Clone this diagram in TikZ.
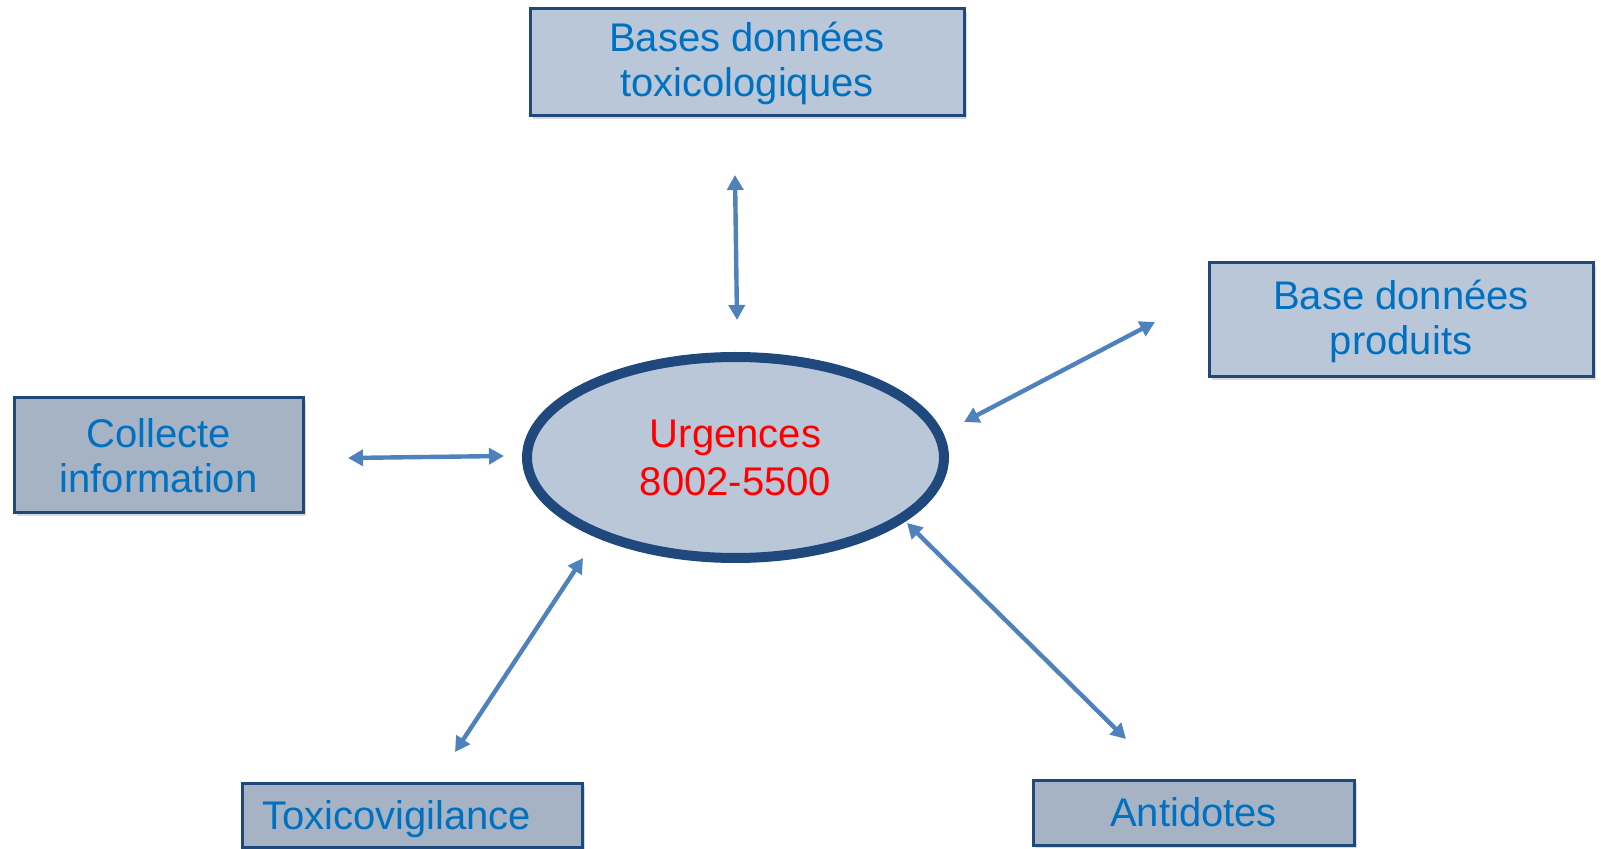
\documentclass[tikz,border=0pt]{standalone}
\usepackage{fontspec}
\setmainfont{Liberation Sans}
\usetikzlibrary{arrows.meta, shapes.geometric, shadows}

\definecolor{boxline}{HTML}{1F497D}
\definecolor{boxlight}{HTML}{B9C7D9}
\definecolor{boxdark}{HTML}{A6B3C5}
\definecolor{txtblue}{HTML}{0070C0}
\definecolor{arrowblue}{HTML}{4F81BD}

\begin{document}
\begin{tikzpicture}[x=0.5pt, y=-0.5pt,
    box/.style={draw=boxline, line width=1.5pt, fill=boxlight, text=txtblue,
        align=center, inner sep=0pt, font=\fontsize{20}{22.5}\selectfont,
        drop shadow={opacity=0.3, shadow xshift=1.5pt, shadow yshift=-1.5pt}},
    darkbox/.style={box, fill=boxdark},
    link/.style={{Triangle[length=7.5pt, width=8pt]}-{Triangle[length=7.5pt, width=8pt]},
        draw=arrowblue, line width=2.2pt}]
\useasboundingbox (0,0) rectangle (1601,849);
\clip (0,0) rectangle (1601,849);

% centre
\node[ellipse, draw=boxline, line width=5pt, fill=boxlight, text=red,
    minimum width=208.5pt, minimum height=100.5pt, inner sep=0pt, align=center,
    font=\fontsize{20}{24}\selectfont] (urg) at (735.5,457.5) {Urgences\\8002-5500};

% boxes
\node[box, minimum width=217pt, minimum height=53.5pt] (bdtox) at (747,62.5)
    {\strut Bases données\\toxicologiques};
\node[box, minimum width=192pt, minimum height=57pt] (bdprod) at (1401,320)
    {\strut Base données\\produits};
\node[darkbox, minimum width=144.5pt, minimum height=57.5pt] (collecte) at (158.5,455.5)
    {Collecte\\information};
\node[darkbox, text width=150pt, align=left, inner xsep=10pt, minimum height=32pt,
    text depth=0pt] (vigil) at (412,815) {Toxicovigilance};
\node[darkbox, minimum width=160.5pt, minimum height=32.5pt, text depth=0pt]
    (antid) at (1193.5,812.5) {Antidotes};

% arrow ends
\coordinate (t1) at (735,175);   \coordinate (t2) at (737,320);
\coordinate (p1) at (1155,322);  \coordinate (p2) at (964,422);
\coordinate (c1) at (348,458);   \coordinate (c2) at (504,456);
\coordinate (v1) at (583,558);   \coordinate (v2) at (455,752);
\coordinate (a1) at (907,523);   \coordinate (a2) at (1126,739);

\draw[link] (t1) -- (t2);
\draw[link] (p1) -- (p2);
\draw[link] (c1) -- (c2);
\draw[link] (v1) -- (v2);
\draw[link] (a1) -- (a2);
\end{tikzpicture}
\end{document}
